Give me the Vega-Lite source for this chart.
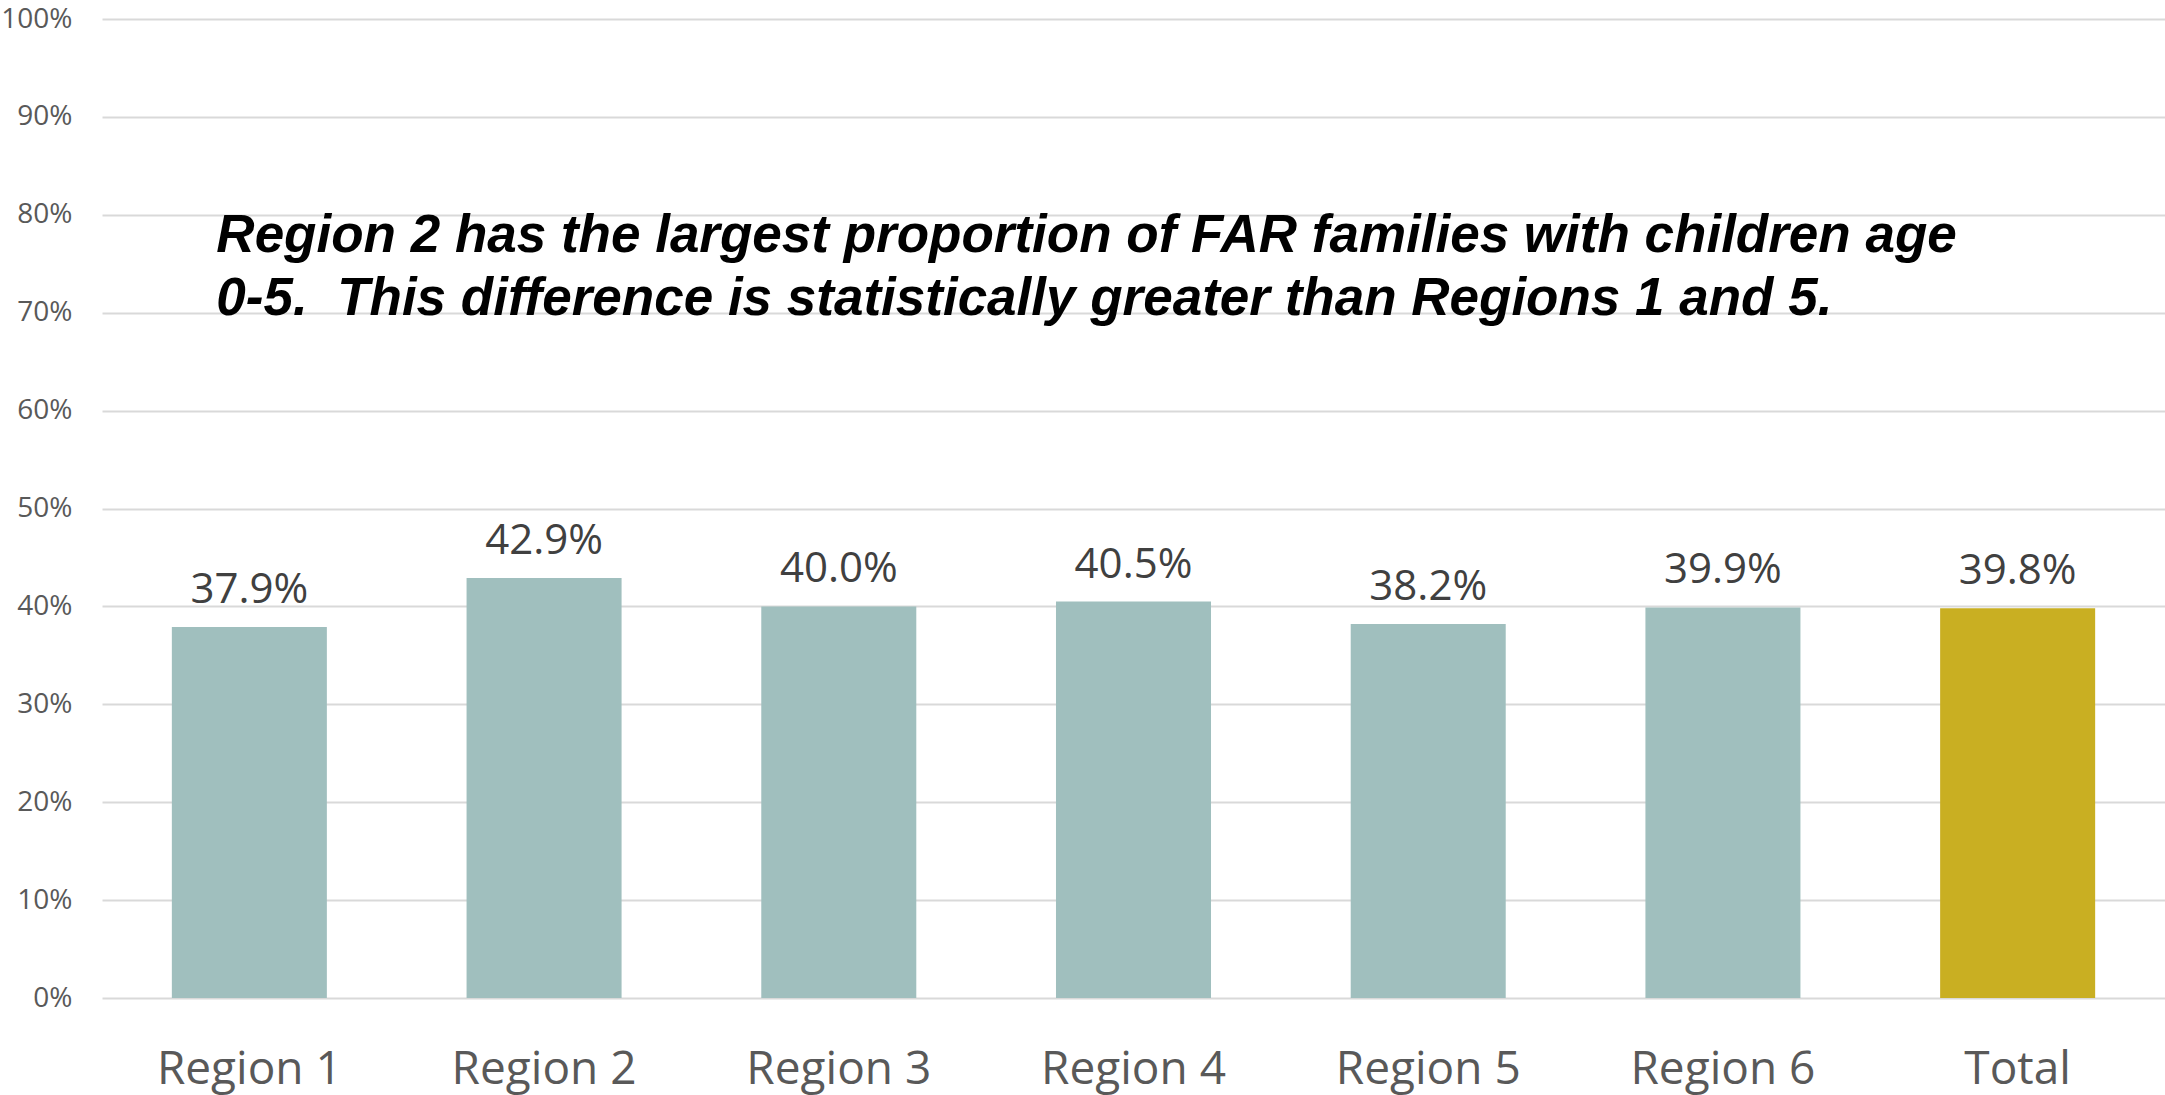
{
  "$schema": "https://vega.github.io/schema/vega-lite/v6.json",
  "width": 2063,
  "height": 979,
  "autosize": {"type": "none"},
  "padding": {"left": 102, "top": 19, "right": 0, "bottom": 97},
  "background": "white",
  "config": {"view": {"stroke": null}},
  "datasets": {
    "bars": [
      {"region": "Region 1", "value": 0.379, "group": "region"},
      {"region": "Region 2", "value": 0.429, "group": "region"},
      {"region": "Region 3", "value": 0.400, "group": "region"},
      {"region": "Region 4", "value": 0.405, "group": "region"},
      {"region": "Region 5", "value": 0.382, "group": "region"},
      {"region": "Region 6", "value": 0.399, "group": "region"},
      {"region": "Total", "value": 0.398, "group": "total"}
    ],
    "notes": [
      {"region": "Region 1", "value": 0.762, "note": "Region 2 has the largest proportion of FAR families with children age\n0-5.\u00a0 This difference is statistically greater than Regions 1 and 5."}
    ]
  },
  "layer": [
    {
      "data": {"name": "bars"},
      "mark": {"type": "bar"},
      "encoding": {
        "x": {
          "field": "region", "type": "nominal", "sort": null,
          "scale": {"paddingInner": 0.474, "paddingOuter": 0.237},
          "axis": {"title": null, "labelAngle": 0, "domain": false, "ticks": false, "labelLimit": 0,
            "labelFont": "Open Sans", "labelFontSize": 46, "labelColor": "#595959", "labelPadding": 49}
        },
        "y": {
          "field": "value", "type": "quantitative",
          "scale": {"domain": [0, 1]},
          "axis": {"title": null, "format": ".0%", "values": [0,0.1,0.2,0.3,0.4,0.5,0.6,0.7,0.8,0.9,1],
            "labelOverlap": false, "labelBound": false,
            "domain": false, "ticks": false, "gridColor": "#D9D9D9", "gridWidth": 2,
            "labelFont": "Open Sans", "labelFontSize": 28, "labelColor": "#595959", "labelPadding": 30}
        },
        "color": {"field": "group", "type": "nominal", "legend": null,
          "scale": {"domain": ["region", "total"], "range": ["#A0BFBE", "#C9AF22"]}}
      }
    },
    {
      "data": {"name": "bars"},
      "mark": {"type": "text", "baseline": "alphabetic", "dy": -24, "font": "Open Sans", "fontSize": 42, "color": "#404040"},
      "encoding": {
        "x": {"field": "region", "type": "nominal", "sort": null},
        "y": {"field": "value", "type": "quantitative"},
        "text": {"field": "value", "type": "quantitative", "format": ".1%"}
      }
    },
    {
      "data": {"name": "notes"},
      "mark": {"type": "text", "align": "left", "baseline": "alphabetic", "dx": -33, "lineBreak": "\n", "font": "Liberation Sans", "fontSize": 53, "fontWeight": "bold", "fontStyle": "italic", "color": "#000000", "lineHeight": 63},
      "encoding": {
        "x": {"field": "region", "type": "nominal", "sort": null},
        "y": {"field": "value", "type": "quantitative"},
        "text": {"field": "note", "type": "nominal"}
      }
    }
  ]
}
